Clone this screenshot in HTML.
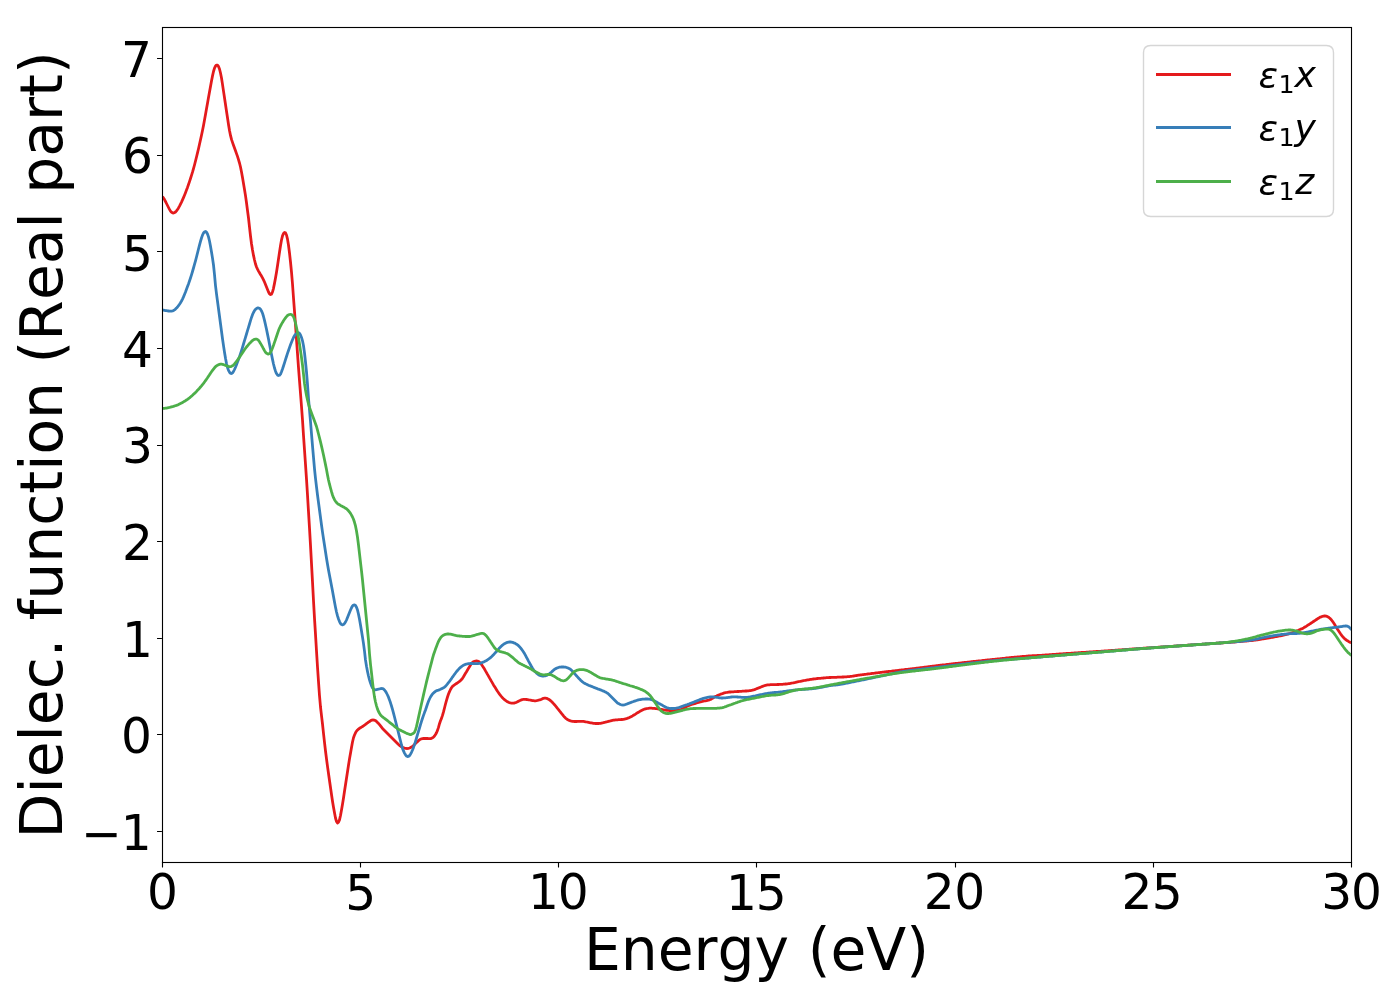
<!DOCTYPE html>
<html><head><meta charset="utf-8"><title>Dielectric function (Real part)</title>
<style>html,body{margin:0;padding:0;background:#fff}svg{display:block}text{font-family:"DejaVu Sans","Liberation Sans",sans-serif;fill:#000;font-kerning:none}</style></head><body>
<svg width="1400" height="1000" viewBox="0 0 1400 1000">
<rect width="1400" height="1000" fill="#fff"/>
<clipPath id="c"><rect x="161.9" y="27.4" width="1189.0" height="834.6"/></clipPath>
<g clip-path="url(#c)" fill="none" stroke-width="2.78" stroke-linejoin="round" stroke-linecap="butt">
<path stroke="#e41a1c" d="M162.5 196.5 L163.5 198.0 L164.5 199.6 L165.5 201.5 L166.5 203.5 L167.5 205.5 L168.5 207.5 L169.5 209.4 L170.5 211.1 L171.5 212.2 L172.5 212.9 L173.5 213.0 L174.5 212.7 L175.5 212.0 L176.5 210.9 L177.5 209.5 L178.5 207.9 L179.5 206.1 L180.5 204.1 L181.5 202.1 L182.5 199.9 L183.5 197.6 L184.5 195.2 L185.5 192.7 L186.5 190.1 L187.5 187.4 L188.5 184.5 L189.5 181.6 L190.5 178.5 L191.5 175.4 L192.5 172.2 L193.5 168.7 L194.5 165.0 L195.5 161.0 L196.5 157.0 L197.5 152.9 L198.5 148.7 L199.5 144.3 L200.5 139.8 L201.5 135.2 L202.5 130.5 L203.5 125.4 L204.5 120.0 L205.5 114.4 L206.5 108.8 L207.5 103.2 L208.5 97.6 L209.5 92.0 L210.5 86.5 L211.5 81.0 L212.5 75.9 L213.5 71.5 L214.5 68.2 L215.5 66.1 L216.5 65.1 L217.5 65.2 L218.5 66.4 L219.5 69.0 L220.5 73.0 L221.5 78.0 L222.5 84.4 L223.5 91.1 L224.5 97.8 L225.5 104.5 L226.5 111.2 L227.5 117.8 L228.5 124.5 L229.5 130.4 L230.5 135.4 L231.5 139.4 L232.5 142.4 L233.5 145.2 L234.5 148.0 L235.5 150.8 L236.5 153.6 L237.5 156.4 L238.5 159.6 L239.5 163.0 L240.5 167.0 L241.5 172.0 L242.5 177.6 L243.5 183.5 L244.5 189.5 L245.5 195.6 L246.5 202.8 L247.5 210.5 L248.5 218.0 L249.5 227.2 L250.5 236.0 L251.5 243.7 L252.5 250.0 L253.5 255.4 L254.5 260.0 L255.5 264.0 L256.5 267.0 L257.5 269.2 L258.5 271.1 L259.5 272.8 L260.5 274.5 L261.5 276.1 L262.5 277.9 L263.5 279.8 L264.5 282.0 L265.5 284.5 L266.5 287.0 L267.5 289.5 L268.5 292.0 L269.5 293.8 L270.5 294.5 L271.5 294.1 L272.5 292.0 L273.5 288.3 L274.5 283.4 L275.5 278.0 L276.5 272.2 L277.5 265.7 L278.5 259.0 L279.5 252.3 L280.5 245.8 L281.5 240.0 L282.5 235.9 L283.5 233.5 L284.5 232.5 L285.5 232.9 L286.5 235.0 L287.5 239.1 L288.5 245.3 L289.5 253.0 L290.5 262.0 L291.5 272.2 L292.5 284.0 L293.5 298.0 L294.5 311.4 L295.5 324.9 L296.5 339.3 L297.5 353.7 L298.5 367.6 L299.5 380.7 L300.5 393.5 L301.5 406.5 L302.5 420.0 L303.5 435.5 L304.5 450.0 L305.5 464.4 L306.5 479.2 L307.5 495.0 L308.5 511.7 L309.5 528.2 L310.5 545.3 L311.5 563.6 L312.5 581.8 L313.5 600.8 L314.5 618.4 L315.5 634.3 L316.5 651.0 L317.5 667.0 L318.5 681.6 L319.5 695.7 L320.5 707.0 L321.5 715.7 L322.5 724.0 L323.5 733.4 L324.5 742.4 L325.5 751.0 L326.5 758.9 L327.5 766.4 L328.5 773.5 L329.5 780.5 L330.5 787.5 L331.5 794.5 L332.5 801.3 L333.5 807.2 L334.5 812.8 L335.5 818.0 L336.5 821.5 L337.5 823.0 L338.5 822.1 L339.5 819.9 L340.5 815.5 L341.5 810.0 L342.5 804.3 L343.5 798.0 L344.5 791.3 L345.5 784.8 L346.5 778.2 L347.5 771.8 L348.5 765.2 L349.5 758.9 L350.5 753.3 L351.5 747.6 L352.5 742.0 L353.5 737.7 L354.5 735.0 L355.5 732.8 L356.5 731.1 L357.5 730.0 L358.5 729.1 L359.5 728.3 L360.5 727.7 L361.5 727.1 L362.5 726.5 L363.5 725.8 L364.5 725.1 L365.5 724.4 L366.5 723.6 L367.5 722.9 L368.5 722.1 L369.5 721.5 L370.5 720.8 L371.5 720.2 L372.5 720.0 L373.5 720.0 L374.5 720.2 L375.5 720.6 L376.5 721.4 L377.5 722.4 L378.5 723.4 L379.5 724.6 L380.5 725.9 L381.5 727.2 L382.5 728.5 L383.5 729.5 L384.5 730.5 L385.5 731.5 L386.5 732.5 L387.5 733.5 L388.5 734.5 L389.5 735.5 L390.5 736.5 L391.5 737.5 L392.5 738.5 L393.5 739.5 L394.5 740.5 L395.5 741.5 L396.5 742.5 L397.5 743.5 L398.5 744.5 L399.5 745.3 L400.5 746.1 L401.5 746.7 L402.5 747.3 L403.5 747.7 L404.5 748.1 L405.5 748.3 L406.5 748.5 L407.5 748.5 L408.5 748.3 L409.5 748.0 L410.5 747.6 L411.5 747.1 L412.5 746.4 L413.5 745.5 L414.5 744.5 L415.5 743.5 L416.5 742.5 L417.5 741.6 L418.5 740.7 L419.5 739.9 L420.5 739.2 L421.5 738.8 L422.5 738.6 L423.5 738.5 L424.5 738.5 L425.5 738.5 L426.5 738.5 L427.5 738.5 L428.5 738.6 L429.5 738.7 L430.5 738.7 L431.5 738.4 L432.5 737.8 L433.5 737.1 L434.5 736.0 L435.5 734.5 L436.5 732.7 L437.5 730.4 L438.5 727.4 L439.5 723.7 L440.5 720.7 L441.5 718.4 L442.5 715.4 L443.5 711.9 L444.5 708.0 L445.5 704.0 L446.5 700.3 L447.5 697.0 L448.5 694.0 L449.5 691.6 L450.5 689.5 L451.5 687.8 L452.5 686.4 L453.5 685.6 L454.5 684.9 L455.5 684.2 L456.5 683.5 L457.5 682.8 L458.5 682.1 L459.5 681.4 L460.5 680.6 L461.5 679.6 L462.5 678.3 L463.5 676.7 L464.5 675.0 L465.5 673.3 L466.5 671.7 L467.5 670.0 L468.5 668.3 L469.5 666.7 L470.5 665.1 L471.5 663.5 L472.5 662.4 L473.5 661.7 L474.5 661.3 L475.5 661.1 L476.5 661.0 L477.5 661.1 L478.5 661.5 L479.5 662.2 L480.5 663.2 L481.5 664.5 L482.5 666.0 L483.5 667.5 L484.5 669.1 L485.5 670.9 L486.5 672.6 L487.5 674.4 L488.5 676.1 L489.5 677.9 L490.5 679.6 L491.5 681.4 L492.5 683.1 L493.5 684.9 L494.5 686.5 L495.5 688.1 L496.5 689.7 L497.5 691.3 L498.5 692.7 L499.5 694.1 L500.5 695.4 L501.5 696.6 L502.5 697.7 L503.5 698.7 L504.5 699.6 L505.5 700.4 L506.5 701.1 L507.5 701.8 L508.5 702.3 L509.5 702.7 L510.5 703.0 L511.5 703.2 L512.5 703.2 L513.5 703.1 L514.5 703.0 L515.5 702.7 L516.5 702.3 L517.5 701.8 L518.5 701.2 L519.5 700.7 L520.5 700.3 L521.5 699.9 L522.5 699.5 L523.5 699.3 L524.5 699.3 L525.5 699.4 L526.5 699.5 L527.5 699.6 L528.5 699.8 L529.5 700.0 L530.5 700.2 L531.5 700.4 L532.5 700.6 L533.5 700.7 L534.5 700.8 L535.5 700.8 L536.5 700.7 L537.5 700.5 L538.5 700.2 L539.5 700.0 L540.5 699.6 L541.5 699.2 L542.5 698.7 L543.5 698.4 L544.5 698.2 L545.5 698.2 L546.5 698.4 L547.5 698.7 L548.5 699.2 L549.5 699.8 L550.5 700.6 L551.5 701.5 L552.5 702.5 L553.5 703.6 L554.5 704.7 L555.5 705.9 L556.5 707.1 L557.5 708.4 L558.5 709.6 L559.5 710.9 L560.5 712.1 L561.5 713.4 L562.5 714.6 L563.5 715.9 L564.5 717.1 L565.5 718.1 L566.5 718.8 L567.5 719.5 L568.5 720.1 L569.5 720.5 L570.5 720.9 L571.5 721.1 L572.5 721.3 L573.5 721.4 L574.5 721.5 L575.5 721.5 L576.5 721.5 L577.5 721.4 L578.5 721.3 L579.5 721.3 L580.5 721.3 L581.5 721.3 L582.5 721.3 L583.5 721.4 L584.5 721.6 L585.5 721.8 L586.5 722.0 L587.5 722.2 L588.5 722.4 L589.5 722.6 L590.5 722.8 L591.5 722.9 L592.5 723.1 L593.5 723.3 L594.5 723.4 L595.5 723.5 L596.5 723.5 L597.5 723.5 L598.5 723.5 L599.5 723.4 L600.5 723.3 L601.5 723.1 L602.5 722.9 L603.5 722.7 L604.5 722.4 L605.5 722.2 L606.5 721.9 L607.5 721.7 L608.5 721.4 L609.5 721.1 L610.5 720.9 L611.5 720.6 L612.5 720.4 L613.5 720.2 L614.5 720.1 L615.5 719.9 L616.5 719.8 L617.5 719.8 L618.5 719.7 L619.5 719.6 L620.5 719.6 L621.5 719.5 L622.5 719.5 L623.5 719.3 L624.5 719.1 L625.5 718.9 L626.5 718.7 L627.5 718.3 L628.5 717.9 L629.5 717.5 L630.5 716.9 L631.5 716.4 L632.5 715.9 L633.5 715.3 L634.5 714.7 L635.5 714.1 L636.5 713.4 L637.5 712.8 L638.5 712.2 L639.5 711.6 L640.5 711.0 L641.5 710.5 L642.5 710.0 L643.5 709.5 L644.5 709.2 L645.5 708.9 L646.5 708.7 L647.5 708.5 L648.5 708.3 L649.5 708.2 L650.5 708.2 L651.5 708.2 L652.5 708.3 L653.5 708.3 L654.5 708.4 L655.5 708.6 L656.5 708.7 L657.5 708.8 L658.5 709.0 L659.5 709.1 L660.5 709.3 L661.5 709.4 L662.5 709.6 L663.5 709.8 L664.5 710.0 L665.5 710.1 L666.5 710.3 L667.5 710.4 L668.5 710.4 L669.5 710.5 L670.5 710.5 L671.5 710.5 L672.5 710.5 L673.5 710.5 L674.5 710.5 L675.5 710.5 L676.5 710.4 L677.5 710.3 L678.5 710.1 L679.5 709.9 L680.5 709.7 L681.5 709.3 L682.5 708.8 L683.5 708.3 L684.5 707.8 L685.5 707.2 L686.5 706.6 L687.5 706.1 L688.5 705.6 L689.5 705.2 L690.5 704.8 L691.5 704.5 L692.5 704.2 L693.5 703.9 L694.5 703.6 L695.5 703.3 L696.5 703.0 L697.5 702.7 L698.5 702.4 L699.5 702.1 L700.5 701.9 L701.5 701.6 L702.5 701.4 L703.5 701.2 L704.5 701.0 L705.5 700.8 L706.5 700.6 L707.5 700.3 L708.5 700.1 L709.5 699.8 L710.5 699.4 L711.5 698.9 L712.5 698.3 L713.5 697.7 L714.5 697.0 L715.5 696.4 L716.5 696.0 L717.5 695.5 L718.5 695.1 L719.5 694.7 L720.5 694.3 L721.5 693.9 L722.5 693.6 L723.5 693.2 L724.5 692.9 L725.5 692.7 L726.5 692.5 L727.5 692.3 L728.5 692.1 L729.5 692.0 L730.5 692.0 L731.5 691.9 L732.5 691.8 L733.5 691.8 L734.5 691.7 L735.5 691.7 L736.5 691.6 L737.5 691.5 L738.5 691.5 L739.5 691.4 L740.5 691.3 L741.5 691.3 L742.5 691.2 L743.5 691.2 L744.5 691.1 L745.5 691.0 L746.5 691.0 L747.5 690.9 L748.5 690.8 L749.5 690.7 L750.5 690.6 L751.5 690.4 L752.5 690.2 L753.5 689.9 L754.5 689.6 L755.5 689.2 L756.5 688.8 L757.5 688.4 L758.5 688.0 L759.5 687.6 L760.5 687.2 L761.5 686.8 L762.5 686.4 L763.5 686.0 L764.5 685.7 L765.5 685.3 L766.5 685.1 L767.5 684.9 L768.5 684.8 L769.5 684.8 L770.5 684.7 L771.5 684.7 L772.5 684.7 L773.5 684.6 L774.5 684.6 L775.5 684.6 L776.5 684.6 L777.5 684.5 L778.5 684.5 L779.5 684.4 L780.5 684.4 L781.5 684.3 L782.5 684.3 L783.5 684.2 L784.5 684.1 L785.5 684.0 L786.5 684.0 L787.5 683.8 L788.5 683.7 L789.5 683.6 L790.5 683.4 L791.5 683.2 L792.5 683.0 L793.5 682.8 L794.5 682.6 L795.5 682.4 L796.5 682.1 L797.5 681.9 L798.5 681.7 L799.5 681.5 L800.5 681.3 L801.5 681.1 L802.5 680.9 L803.5 680.7 L804.5 680.5 L805.5 680.3 L806.5 680.1 L807.5 679.9 L808.5 679.8 L809.5 679.6 L810.5 679.4 L811.5 679.3 L812.5 679.1 L813.5 679.0 L814.5 678.9 L815.5 678.8 L816.5 678.6 L817.5 678.5 L818.5 678.4 L819.5 678.3 L820.5 678.3 L821.5 678.2 L822.5 678.1 L823.5 678.0 L824.5 677.9 L825.5 677.8 L826.5 677.7 L827.5 677.7 L828.5 677.6 L829.5 677.5 L830.5 677.5 L831.5 677.4 L832.5 677.4 L833.5 677.4 L834.5 677.3 L835.5 677.3 L836.5 677.3 L837.5 677.2 L838.5 677.2 L839.5 677.2 L840.5 677.1 L841.5 677.1 L842.5 677.0 L843.5 677.0 L844.5 676.9 L845.5 676.9 L846.5 676.8 L847.5 676.7 L848.5 676.7 L849.5 676.6 L850.5 676.4 L851.5 676.3 L852.5 676.2 L853.5 676.0 L854.5 675.9 L855.5 675.7 L856.5 675.5 L857.5 675.4 L858.5 675.2 L859.5 675.1 L860.5 674.9 L861.5 674.8 L862.5 674.7 L863.5 674.6 L864.5 674.4 L865.5 674.3 L866.5 674.2 L867.5 674.0 L868.5 673.9 L869.5 673.8 L870.5 673.7 L871.5 673.5 L872.5 673.4 L873.5 673.3 L874.5 673.2 L875.5 673.0 L876.5 672.9 L877.5 672.8 L878.5 672.7 L879.5 672.6 L880.5 672.4 L881.5 672.3 L882.5 672.2 L883.5 672.1 L884.5 672.0 L885.5 671.9 L886.5 671.7 L887.5 671.6 L888.5 671.5 L889.5 671.4 L890.5 671.3 L891.5 671.2 L892.5 671.0 L893.5 670.9 L894.5 670.8 L895.5 670.7 L896.5 670.6 L897.5 670.5 L898.5 670.3 L899.5 670.2 L900.5 670.1 L901.5 670.0 L902.5 669.9 L903.5 669.8 L904.5 669.6 L905.5 669.5 L906.5 669.4 L907.5 669.3 L908.5 669.2 L909.5 669.1 L910.5 668.9 L911.5 668.8 L912.5 668.7 L913.5 668.6 L914.5 668.5 L915.5 668.3 L916.5 668.2 L917.5 668.1 L918.5 668.0 L919.5 667.8 L920.5 667.7 L921.5 667.6 L922.5 667.5 L923.5 667.3 L924.5 667.2 L925.5 667.1 L926.5 667.0 L927.5 666.8 L928.5 666.7 L929.5 666.6 L930.5 666.4 L931.5 666.3 L932.5 666.2 L933.5 666.1 L934.5 666.0 L935.5 665.8 L936.5 665.7 L937.5 665.6 L938.5 665.5 L939.5 665.4 L940.5 665.2 L941.5 665.1 L942.5 665.0 L943.5 664.9 L944.5 664.8 L945.5 664.7 L946.5 664.5 L947.5 664.4 L948.5 664.3 L949.5 664.2 L950.5 664.1 L951.5 664.0 L952.5 663.9 L953.5 663.7 L954.5 663.6 L955.5 663.5 L956.5 663.4 L957.5 663.3 L958.5 663.2 L959.5 663.1 L960.5 663.0 L961.5 662.8 L962.5 662.7 L963.5 662.6 L964.5 662.5 L965.5 662.4 L966.5 662.3 L967.5 662.2 L968.5 662.1 L969.5 662.0 L970.5 661.8 L971.5 661.7 L972.5 661.6 L973.5 661.5 L974.5 661.4 L975.5 661.3 L976.5 661.2 L977.5 661.1 L978.5 661.0 L979.5 660.9 L980.5 660.8 L981.5 660.7 L982.5 660.5 L983.5 660.4 L984.5 660.3 L985.5 660.2 L986.5 660.1 L987.5 660.0 L988.5 659.9 L989.5 659.8 L990.5 659.7 L991.5 659.6 L992.5 659.5 L993.5 659.4 L994.5 659.3 L995.5 659.2 L996.5 659.1 L997.5 659.0 L998.5 658.9 L999.5 658.8 L1000.5 658.7 L1001.5 658.6 L1002.5 658.5 L1003.5 658.4 L1004.5 658.3 L1005.5 658.1 L1006.5 658.0 L1007.5 657.9 L1008.5 657.8 L1009.5 657.7 L1010.5 657.6 L1011.5 657.5 L1012.5 657.4 L1013.5 657.3 L1014.5 657.2 L1015.5 657.2 L1016.5 657.1 L1017.5 657.0 L1018.5 656.9 L1019.5 656.8 L1020.5 656.7 L1021.5 656.6 L1022.5 656.5 L1023.5 656.4 L1024.5 656.3 L1025.5 656.3 L1026.5 656.2 L1027.5 656.1 L1028.5 656.0 L1029.5 655.9 L1030.5 655.9 L1031.5 655.8 L1032.5 655.7 L1033.5 655.7 L1034.5 655.7 L1035.5 655.6 L1036.5 655.6 L1037.5 655.5 L1038.5 655.5 L1039.5 655.4 L1040.5 655.4 L1041.5 655.3 L1042.5 655.2 L1043.5 655.2 L1044.5 655.1 L1045.5 655.0 L1046.5 654.9 L1047.5 654.9 L1048.5 654.8 L1049.5 654.7 L1050.5 654.7 L1051.5 654.6 L1052.5 654.5 L1053.5 654.5 L1054.5 654.4 L1055.5 654.3 L1056.5 654.2 L1057.5 654.2 L1058.5 654.1 L1059.5 654.0 L1060.5 654.0 L1061.5 653.9 L1062.5 653.8 L1063.5 653.7 L1064.5 653.7 L1065.5 653.6 L1066.5 653.5 L1067.5 653.5 L1068.5 653.4 L1069.5 653.3 L1070.5 653.3 L1071.5 653.2 L1072.5 653.1 L1073.5 653.1 L1074.5 653.0 L1075.5 652.9 L1076.5 652.9 L1077.5 652.8 L1078.5 652.7 L1079.5 652.7 L1080.5 652.6 L1081.5 652.5 L1082.5 652.5 L1083.5 652.4 L1084.5 652.3 L1085.5 652.3 L1086.5 652.2 L1087.5 652.1 L1088.5 652.1 L1089.5 652.0 L1090.5 651.9 L1091.5 651.9 L1092.5 651.8 L1093.5 651.7 L1094.5 651.7 L1095.5 651.6 L1096.5 651.5 L1097.5 651.5 L1098.5 651.4 L1099.5 651.3 L1100.5 651.3 L1101.5 651.2 L1102.5 651.1 L1103.5 651.1 L1104.5 651.0 L1105.5 650.9 L1106.5 650.8 L1107.5 650.8 L1108.5 650.7 L1109.5 650.6 L1110.5 650.6 L1111.5 650.5 L1112.5 650.4 L1113.5 650.4 L1114.5 650.3 L1115.5 650.2 L1116.5 650.1 L1117.5 650.1 L1118.5 650.0 L1119.5 649.9 L1120.5 649.9 L1121.5 649.8 L1122.5 649.7 L1123.5 649.7 L1124.5 649.6 L1125.5 649.5 L1126.5 649.4 L1127.5 649.4 L1128.5 649.3 L1129.5 649.2 L1130.5 649.2 L1131.5 649.1 L1132.5 649.0 L1133.5 648.9 L1134.5 648.9 L1135.5 648.8 L1136.5 648.7 L1137.5 648.7 L1138.5 648.6 L1139.5 648.5 L1140.5 648.5 L1141.5 648.4 L1142.5 648.3 L1143.5 648.2 L1144.5 648.2 L1145.5 648.1 L1146.5 648.0 L1147.5 648.0 L1148.5 647.9 L1149.5 647.8 L1150.5 647.8 L1151.5 647.7 L1152.5 647.6 L1153.5 647.6 L1154.5 647.5 L1155.5 647.4 L1156.5 647.4 L1157.5 647.3 L1158.5 647.2 L1159.5 647.1 L1160.5 647.1 L1161.5 647.0 L1162.5 646.9 L1163.5 646.9 L1164.5 646.8 L1165.5 646.7 L1166.5 646.7 L1167.5 646.6 L1168.5 646.5 L1169.5 646.5 L1170.5 646.4 L1171.5 646.3 L1172.5 646.3 L1173.5 646.2 L1174.5 646.1 L1175.5 646.1 L1176.5 646.0 L1177.5 645.9 L1178.5 645.8 L1179.5 645.8 L1180.5 645.7 L1181.5 645.6 L1182.5 645.6 L1183.5 645.5 L1184.5 645.4 L1185.5 645.4 L1186.5 645.3 L1187.5 645.2 L1188.5 645.2 L1189.5 645.1 L1190.5 645.0 L1191.5 645.0 L1192.5 644.9 L1193.5 644.8 L1194.5 644.7 L1195.5 644.7 L1196.5 644.6 L1197.5 644.5 L1198.5 644.5 L1199.5 644.4 L1200.5 644.3 L1201.5 644.3 L1202.5 644.2 L1203.5 644.1 L1204.5 644.1 L1205.5 644.0 L1206.5 643.9 L1207.5 643.9 L1208.5 643.8 L1209.5 643.7 L1210.5 643.7 L1211.5 643.6 L1212.5 643.5 L1213.5 643.4 L1214.5 643.4 L1215.5 643.3 L1216.5 643.2 L1217.5 643.2 L1218.5 643.1 L1219.5 643.0 L1220.5 643.0 L1221.5 642.9 L1222.5 642.8 L1223.5 642.8 L1224.5 642.7 L1225.5 642.6 L1226.5 642.5 L1227.5 642.5 L1228.5 642.4 L1229.5 642.3 L1230.5 642.3 L1231.5 642.2 L1232.5 642.1 L1233.5 642.0 L1234.5 642.0 L1235.5 641.9 L1236.5 641.8 L1237.5 641.7 L1238.5 641.6 L1239.5 641.6 L1240.5 641.5 L1241.5 641.4 L1242.5 641.3 L1243.5 641.2 L1244.5 641.2 L1245.5 641.1 L1246.5 641.0 L1247.5 640.9 L1248.5 640.8 L1249.5 640.7 L1250.5 640.7 L1251.5 640.6 L1252.5 640.5 L1253.5 640.3 L1254.5 640.2 L1255.5 640.1 L1256.5 639.9 L1257.5 639.8 L1258.5 639.6 L1259.5 639.5 L1260.5 639.3 L1261.5 639.2 L1262.5 639.0 L1263.5 638.8 L1264.5 638.6 L1265.5 638.5 L1266.5 638.3 L1267.5 638.1 L1268.5 638.0 L1269.5 637.8 L1270.5 637.6 L1271.5 637.4 L1272.5 637.3 L1273.5 637.1 L1274.5 636.9 L1275.5 636.7 L1276.5 636.6 L1277.5 636.4 L1278.5 636.2 L1279.5 636.0 L1280.5 635.8 L1281.5 635.6 L1282.5 635.3 L1283.5 635.1 L1284.5 634.9 L1285.5 634.7 L1286.5 634.4 L1287.5 634.2 L1288.5 633.9 L1289.5 633.6 L1290.5 633.4 L1291.5 633.0 L1292.5 632.7 L1293.5 632.3 L1294.5 631.9 L1295.5 631.5 L1296.5 631.1 L1297.5 630.6 L1298.5 630.2 L1299.5 629.7 L1300.5 629.3 L1301.5 628.9 L1302.5 628.4 L1303.5 627.9 L1304.5 627.3 L1305.5 626.7 L1306.5 626.1 L1307.5 625.4 L1308.5 624.8 L1309.5 624.1 L1310.5 623.5 L1311.5 622.8 L1312.5 622.2 L1313.5 621.5 L1314.5 620.8 L1315.5 620.2 L1316.5 619.5 L1317.5 618.8 L1318.5 618.2 L1319.5 617.6 L1320.5 617.1 L1321.5 616.7 L1322.5 616.3 L1323.5 616.1 L1324.5 616.0 L1325.5 616.0 L1326.5 616.2 L1327.5 616.6 L1328.5 617.2 L1329.5 618.0 L1330.5 618.9 L1331.5 620.0 L1332.5 621.3 L1333.5 622.8 L1334.5 624.3 L1335.5 626.0 L1336.5 627.6 L1337.5 629.2 L1338.5 630.7 L1339.5 632.2 L1340.5 633.7 L1341.5 635.1 L1342.5 636.4 L1343.5 637.6 L1344.5 638.6 L1345.5 639.4 L1346.5 640.2 L1347.5 640.8 L1348.5 641.4 L1349.5 641.9 L1350.5 642.4 L1351.5 642.7"/>
<path stroke="#377eb8" d="M162.5 310.0 L163.5 310.2 L164.5 310.4 L165.5 310.6 L166.5 310.7 L167.5 310.9 L168.5 311.0 L169.5 311.1 L170.5 311.2 L171.5 311.2 L172.5 311.0 L173.5 310.5 L174.5 309.9 L175.5 309.1 L176.5 308.1 L177.5 307.0 L178.5 305.7 L179.5 304.3 L180.5 302.7 L181.5 301.0 L182.5 299.1 L183.5 296.9 L184.5 294.5 L185.5 292.0 L186.5 289.3 L187.5 286.6 L188.5 283.9 L189.5 281.0 L190.5 278.0 L191.5 274.8 L192.5 271.5 L193.5 268.0 L194.5 264.4 L195.5 260.8 L196.5 257.0 L197.5 253.0 L198.5 249.0 L199.5 245.1 L200.5 241.4 L201.5 238.0 L202.5 235.1 L203.5 233.0 L204.5 231.8 L205.5 231.5 L206.5 232.2 L207.5 234.0 L208.5 236.9 L209.5 241.0 L210.5 246.3 L211.5 252.0 L212.5 258.1 L213.5 265.0 L214.5 274.7 L215.5 285.6 L216.5 293.8 L217.5 301.2 L218.5 308.8 L219.5 316.2 L220.5 323.8 L221.5 331.2 L222.5 338.7 L223.5 345.6 L224.5 352.3 L225.5 358.3 L226.5 363.5 L227.5 367.5 L228.5 370.3 L229.5 372.2 L230.5 373.3 L231.5 373.5 L232.5 372.9 L233.5 371.5 L234.5 369.5 L235.5 367.2 L236.5 364.7 L237.5 362.1 L238.5 359.4 L239.5 356.6 L240.5 353.7 L241.5 350.6 L242.5 347.3 L243.5 344.0 L244.5 340.7 L245.5 337.3 L246.5 334.0 L247.5 330.7 L248.5 327.3 L249.5 324.0 L250.5 320.7 L251.5 317.4 L252.5 314.7 L253.5 312.5 L254.5 310.6 L255.5 309.3 L256.5 308.5 L257.5 308.0 L258.5 308.0 L259.5 308.3 L260.5 309.3 L261.5 310.9 L262.5 313.2 L263.5 316.5 L264.5 320.4 L265.5 324.7 L266.5 329.3 L267.5 334.1 L268.5 339.0 L269.5 344.2 L270.5 349.4 L271.5 354.5 L272.5 359.4 L273.5 364.0 L274.5 368.0 L275.5 371.2 L276.5 373.6 L277.5 375.1 L278.5 375.5 L279.5 375.2 L280.5 374.1 L281.5 371.7 L282.5 369.0 L283.5 366.0 L284.5 362.8 L285.5 359.6 L286.5 356.5 L287.5 353.4 L288.5 350.5 L289.5 347.6 L290.5 344.8 L291.5 342.3 L292.5 339.8 L293.5 337.5 L294.5 335.7 L295.5 334.4 L296.5 333.6 L297.5 333.0 L298.5 332.6 L299.5 333.3 L300.5 334.9 L301.5 337.4 L302.5 340.8 L303.5 345.8 L304.5 352.9 L305.5 362.0 L306.5 372.0 L307.5 384.3 L308.5 398.5 L309.5 410.0 L310.5 421.5 L311.5 433.8 L312.5 445.8 L313.5 457.3 L314.5 468.8 L315.5 478.3 L316.5 486.9 L317.5 495.0 L318.5 502.5 L319.5 510.0 L320.5 517.5 L321.5 525.0 L322.5 532.1 L323.5 538.7 L324.5 545.3 L325.5 551.8 L326.5 558.2 L327.5 564.3 L328.5 570.0 L329.5 575.3 L330.5 580.5 L331.5 585.8 L332.5 591.0 L333.5 596.5 L334.5 602.0 L335.5 607.2 L336.5 612.0 L337.5 615.9 L338.5 619.0 L339.5 621.6 L340.5 623.5 L341.5 624.5 L342.5 624.8 L343.5 624.5 L344.5 623.5 L345.5 622.0 L346.5 620.0 L347.5 617.5 L348.5 615.0 L349.5 612.5 L350.5 610.0 L351.5 607.8 L352.5 606.0 L353.5 605.0 L354.5 604.8 L355.5 605.5 L356.5 607.2 L357.5 610.0 L358.5 614.2 L359.5 619.2 L360.5 624.9 L361.5 630.9 L362.5 637.1 L363.5 643.6 L364.5 651.1 L365.5 660.0 L366.5 666.3 L367.5 671.4 L368.5 676.0 L369.5 679.8 L370.5 683.1 L371.5 685.8 L372.5 687.8 L373.5 689.0 L374.5 689.7 L375.5 689.8 L376.5 689.6 L377.5 689.4 L378.5 689.2 L379.5 689.0 L380.5 688.7 L381.5 688.5 L382.5 688.6 L383.5 689.1 L384.5 690.0 L385.5 691.3 L386.5 693.0 L387.5 695.0 L388.5 697.2 L389.5 699.9 L390.5 702.8 L391.5 706.0 L392.5 709.4 L393.5 713.1 L394.5 717.0 L395.5 721.0 L396.5 725.0 L397.5 729.0 L398.5 733.0 L399.5 737.0 L400.5 741.0 L401.5 745.0 L402.5 748.4 L403.5 750.9 L404.5 753.1 L405.5 754.8 L406.5 756.0 L407.5 756.5 L408.5 756.4 L409.5 755.6 L410.5 754.2 L411.5 752.3 L412.5 750.0 L413.5 747.4 L414.5 744.6 L415.5 741.3 L416.5 738.0 L417.5 734.7 L418.5 731.3 L419.5 728.0 L420.5 724.7 L421.5 721.4 L422.5 718.3 L423.5 715.4 L424.5 712.6 L425.5 710.0 L426.5 707.0 L427.5 704.0 L428.5 701.3 L429.5 699.0 L430.5 697.0 L431.5 695.4 L432.5 694.0 L433.5 693.0 L434.5 692.1 L435.5 691.3 L436.5 690.8 L437.5 690.4 L438.5 690.1 L439.5 689.7 L440.5 689.3 L441.5 688.8 L442.5 688.4 L443.5 687.8 L444.5 687.1 L445.5 686.2 L446.5 685.1 L447.5 683.9 L448.5 682.6 L449.5 681.4 L450.5 680.0 L451.5 678.6 L452.5 677.1 L453.5 675.7 L454.5 674.3 L455.5 673.0 L456.5 671.7 L457.5 670.5 L458.5 669.4 L459.5 668.3 L460.5 667.4 L461.5 666.6 L462.5 665.9 L463.5 665.3 L464.5 664.8 L465.5 664.4 L466.5 664.0 L467.5 663.8 L468.5 663.6 L469.5 663.6 L470.5 663.5 L471.5 663.5 L472.5 663.5 L473.5 663.6 L474.5 663.6 L475.5 663.7 L476.5 663.7 L477.5 663.6 L478.5 663.5 L479.5 663.3 L480.5 663.1 L481.5 662.8 L482.5 662.4 L483.5 662.0 L484.5 661.6 L485.5 661.1 L486.5 660.5 L487.5 659.8 L488.5 659.1 L489.5 658.4 L490.5 657.6 L491.5 656.7 L492.5 655.7 L493.5 654.7 L494.5 653.6 L495.5 652.5 L496.5 651.5 L497.5 650.3 L498.5 649.2 L499.5 648.0 L500.5 647.0 L501.5 646.0 L502.5 645.1 L503.5 644.4 L504.5 643.7 L505.5 643.1 L506.5 642.7 L507.5 642.4 L508.5 642.1 L509.5 642.0 L510.5 642.0 L511.5 642.1 L512.5 642.4 L513.5 642.7 L514.5 643.1 L515.5 643.6 L516.5 644.2 L517.5 644.9 L518.5 645.7 L519.5 646.7 L520.5 647.9 L521.5 649.2 L522.5 650.5 L523.5 652.0 L524.5 653.6 L525.5 655.4 L526.5 657.3 L527.5 659.2 L528.5 661.1 L529.5 662.9 L530.5 664.7 L531.5 666.5 L532.5 668.2 L533.5 669.8 L534.5 671.1 L535.5 672.1 L536.5 673.1 L537.5 673.9 L538.5 674.7 L539.5 675.3 L540.5 675.7 L541.5 675.9 L542.5 676.0 L543.5 676.0 L544.5 675.9 L545.5 675.8 L546.5 675.4 L547.5 674.9 L548.5 674.3 L549.5 673.6 L550.5 672.8 L551.5 672.0 L552.5 671.1 L553.5 670.2 L554.5 669.4 L555.5 668.8 L556.5 668.2 L557.5 667.8 L558.5 667.5 L559.5 667.2 L560.5 667.1 L561.5 667.0 L562.5 666.9 L563.5 667.0 L564.5 667.1 L565.5 667.2 L566.5 667.5 L567.5 667.8 L568.5 668.2 L569.5 668.7 L570.5 669.4 L571.5 670.3 L572.5 671.3 L573.5 672.4 L574.5 673.5 L575.5 674.6 L576.5 675.8 L577.5 676.9 L578.5 678.0 L579.5 679.1 L580.5 680.1 L581.5 681.0 L582.5 681.9 L583.5 682.6 L584.5 683.2 L585.5 683.8 L586.5 684.2 L587.5 684.7 L588.5 685.2 L589.5 685.6 L590.5 686.0 L591.5 686.4 L592.5 686.8 L593.5 687.2 L594.5 687.6 L595.5 688.0 L596.5 688.4 L597.5 688.8 L598.5 689.1 L599.5 689.5 L600.5 689.9 L601.5 690.3 L602.5 690.7 L603.5 691.1 L604.5 691.6 L605.5 692.0 L606.5 692.6 L607.5 693.2 L608.5 694.0 L609.5 695.0 L610.5 696.0 L611.5 697.0 L612.5 698.0 L613.5 699.0 L614.5 700.0 L615.5 701.0 L616.5 702.0 L617.5 703.0 L618.5 703.6 L619.5 704.1 L620.5 704.5 L621.5 704.8 L622.5 705.0 L623.5 705.0 L624.5 704.8 L625.5 704.5 L626.5 704.2 L627.5 703.8 L628.5 703.4 L629.5 703.0 L630.5 702.6 L631.5 702.2 L632.5 701.8 L633.5 701.5 L634.5 701.1 L635.5 700.8 L636.5 700.5 L637.5 700.2 L638.5 699.9 L639.5 699.7 L640.5 699.5 L641.5 699.4 L642.5 699.2 L643.5 699.1 L644.5 699.1 L645.5 699.0 L646.5 699.0 L647.5 699.0 L648.5 699.1 L649.5 699.2 L650.5 699.4 L651.5 699.7 L652.5 700.0 L653.5 700.4 L654.5 700.9 L655.5 701.5 L656.5 702.0 L657.5 702.6 L658.5 703.2 L659.5 703.7 L660.5 704.3 L661.5 704.8 L662.5 705.4 L663.5 706.0 L664.5 706.5 L665.5 707.1 L666.5 707.5 L667.5 707.8 L668.5 708.1 L669.5 708.3 L670.5 708.5 L671.5 708.5 L672.5 708.5 L673.5 708.5 L674.5 708.4 L675.5 708.3 L676.5 708.1 L677.5 707.9 L678.5 707.7 L679.5 707.4 L680.5 707.0 L681.5 706.6 L682.5 706.2 L683.5 705.9 L684.5 705.5 L685.5 705.2 L686.5 704.8 L687.5 704.5 L688.5 704.1 L689.5 703.8 L690.5 703.4 L691.5 703.0 L692.5 702.6 L693.5 702.2 L694.5 701.8 L695.5 701.4 L696.5 701.0 L697.5 700.6 L698.5 700.2 L699.5 699.8 L700.5 699.4 L701.5 699.0 L702.5 698.7 L703.5 698.4 L704.5 698.1 L705.5 697.8 L706.5 697.6 L707.5 697.4 L708.5 697.2 L709.5 697.0 L710.5 697.0 L711.5 696.9 L712.5 696.9 L713.5 697.0 L714.5 697.1 L715.5 697.2 L716.5 697.3 L717.5 697.4 L718.5 697.6 L719.5 697.8 L720.5 697.9 L721.5 698.0 L722.5 698.0 L723.5 697.9 L724.5 697.8 L725.5 697.8 L726.5 697.7 L727.5 697.6 L728.5 697.4 L729.5 697.3 L730.5 697.1 L731.5 697.0 L732.5 696.9 L733.5 696.8 L734.5 696.8 L735.5 696.9 L736.5 696.9 L737.5 697.0 L738.5 697.1 L739.5 697.2 L740.5 697.2 L741.5 697.3 L742.5 697.4 L743.5 697.4 L744.5 697.5 L745.5 697.5 L746.5 697.5 L747.5 697.4 L748.5 697.2 L749.5 697.0 L750.5 696.8 L751.5 696.6 L752.5 696.4 L753.5 696.2 L754.5 696.0 L755.5 695.8 L756.5 695.5 L757.5 695.3 L758.5 695.1 L759.5 694.9 L760.5 694.7 L761.5 694.5 L762.5 694.3 L763.5 694.1 L764.5 693.9 L765.5 693.7 L766.5 693.6 L767.5 693.4 L768.5 693.2 L769.5 693.1 L770.5 692.9 L771.5 692.8 L772.5 692.7 L773.5 692.6 L774.5 692.5 L775.5 692.5 L776.5 692.4 L777.5 692.3 L778.5 692.2 L779.5 692.1 L780.5 691.9 L781.5 691.8 L782.5 691.7 L783.5 691.5 L784.5 691.4 L785.5 691.3 L786.5 691.1 L787.5 691.0 L788.5 690.9 L789.5 690.7 L790.5 690.6 L791.5 690.5 L792.5 690.3 L793.5 690.2 L794.5 690.1 L795.5 690.0 L796.5 689.9 L797.5 689.8 L798.5 689.7 L799.5 689.6 L800.5 689.6 L801.5 689.5 L802.5 689.4 L803.5 689.3 L804.5 689.3 L805.5 689.2 L806.5 689.2 L807.5 689.1 L808.5 689.0 L809.5 688.9 L810.5 688.9 L811.5 688.8 L812.5 688.6 L813.5 688.5 L814.5 688.4 L815.5 688.3 L816.5 688.1 L817.5 688.0 L818.5 687.8 L819.5 687.7 L820.5 687.5 L821.5 687.3 L822.5 687.1 L823.5 686.9 L824.5 686.7 L825.5 686.5 L826.5 686.3 L827.5 686.1 L828.5 685.9 L829.5 685.7 L830.5 685.5 L831.5 685.4 L832.5 685.3 L833.5 685.2 L834.5 685.1 L835.5 685.0 L836.5 684.9 L837.5 684.8 L838.5 684.6 L839.5 684.5 L840.5 684.3 L841.5 684.1 L842.5 684.0 L843.5 683.8 L844.5 683.6 L845.5 683.4 L846.5 683.2 L847.5 683.0 L848.5 682.9 L849.5 682.7 L850.5 682.4 L851.5 682.2 L852.5 682.0 L853.5 681.8 L854.5 681.6 L855.5 681.4 L856.5 681.2 L857.5 681.0 L858.5 680.8 L859.5 680.6 L860.5 680.4 L861.5 680.2 L862.5 680.0 L863.5 679.8 L864.5 679.6 L865.5 679.4 L866.5 679.1 L867.5 678.9 L868.5 678.7 L869.5 678.5 L870.5 678.3 L871.5 678.1 L872.5 677.9 L873.5 677.7 L874.5 677.5 L875.5 677.2 L876.5 677.0 L877.5 676.8 L878.5 676.6 L879.5 676.4 L880.5 676.2 L881.5 676.0 L882.5 675.8 L883.5 675.5 L884.5 675.3 L885.5 675.1 L886.5 674.9 L887.5 674.7 L888.5 674.4 L889.5 674.2 L890.5 674.0 L891.5 673.8 L892.5 673.5 L893.5 673.3 L894.5 673.1 L895.5 672.9 L896.5 672.7 L897.5 672.5 L898.5 672.3 L899.5 672.1 L900.5 671.9 L901.5 671.8 L902.5 671.6 L903.5 671.4 L904.5 671.3 L905.5 671.1 L906.5 671.0 L907.5 670.8 L908.5 670.7 L909.5 670.6 L910.5 670.4 L911.5 670.3 L912.5 670.2 L913.5 670.1 L914.5 670.0 L915.5 669.8 L916.5 669.7 L917.5 669.6 L918.5 669.5 L919.5 669.4 L920.5 669.3 L921.5 669.2 L922.5 669.0 L923.5 668.9 L924.5 668.8 L925.5 668.7 L926.5 668.6 L927.5 668.5 L928.5 668.4 L929.5 668.2 L930.5 668.1 L931.5 668.0 L932.5 667.9 L933.5 667.8 L934.5 667.7 L935.5 667.5 L936.5 667.4 L937.5 667.3 L938.5 667.2 L939.5 667.1 L940.5 666.9 L941.5 666.8 L942.5 666.7 L943.5 666.6 L944.5 666.4 L945.5 666.3 L946.5 666.2 L947.5 666.1 L948.5 665.9 L949.5 665.8 L950.5 665.7 L951.5 665.6 L952.5 665.4 L953.5 665.3 L954.5 665.2 L955.5 665.1 L956.5 664.9 L957.5 664.8 L958.5 664.7 L959.5 664.6 L960.5 664.5 L961.5 664.3 L962.5 664.2 L963.5 664.1 L964.5 664.0 L965.5 663.8 L966.5 663.7 L967.5 663.6 L968.5 663.5 L969.5 663.4 L970.5 663.2 L971.5 663.1 L972.5 663.0 L973.5 662.9 L974.5 662.8 L975.5 662.7 L976.5 662.5 L977.5 662.4 L978.5 662.3 L979.5 662.2 L980.5 662.1 L981.5 662.0 L982.5 661.9 L983.5 661.8 L984.5 661.7 L985.5 661.6 L986.5 661.5 L987.5 661.3 L988.5 661.2 L989.5 661.1 L990.5 661.0 L991.5 660.9 L992.5 660.8 L993.5 660.7 L994.5 660.6 L995.5 660.6 L996.5 660.5 L997.5 660.4 L998.5 660.3 L999.5 660.2 L1000.5 660.1 L1001.5 660.0 L1002.5 659.9 L1003.5 659.8 L1004.5 659.7 L1005.5 659.7 L1006.5 659.6 L1007.5 659.5 L1008.5 659.4 L1009.5 659.3 L1010.5 659.3 L1011.5 659.2 L1012.5 659.1 L1013.5 659.1 L1014.5 659.0 L1015.5 658.9 L1016.5 658.8 L1017.5 658.8 L1018.5 658.7 L1019.5 658.6 L1020.5 658.6 L1021.5 658.5 L1022.5 658.4 L1023.5 658.4 L1024.5 658.3 L1025.5 658.2 L1026.5 658.1 L1027.5 658.1 L1028.5 658.0 L1029.5 657.9 L1030.5 657.8 L1031.5 657.7 L1032.5 657.6 L1033.5 657.6 L1034.5 657.5 L1035.5 657.4 L1036.5 657.3 L1037.5 657.2 L1038.5 657.1 L1039.5 657.0 L1040.5 657.0 L1041.5 656.9 L1042.5 656.8 L1043.5 656.7 L1044.5 656.6 L1045.5 656.5 L1046.5 656.5 L1047.5 656.4 L1048.5 656.3 L1049.5 656.2 L1050.5 656.1 L1051.5 656.0 L1052.5 656.0 L1053.5 655.9 L1054.5 655.8 L1055.5 655.7 L1056.5 655.6 L1057.5 655.5 L1058.5 655.5 L1059.5 655.4 L1060.5 655.3 L1061.5 655.2 L1062.5 655.1 L1063.5 655.0 L1064.5 655.0 L1065.5 654.9 L1066.5 654.8 L1067.5 654.7 L1068.5 654.6 L1069.5 654.5 L1070.5 654.5 L1071.5 654.4 L1072.5 654.3 L1073.5 654.2 L1074.5 654.1 L1075.5 654.1 L1076.5 654.0 L1077.5 653.9 L1078.5 653.8 L1079.5 653.7 L1080.5 653.7 L1081.5 653.6 L1082.5 653.5 L1083.5 653.4 L1084.5 653.3 L1085.5 653.3 L1086.5 653.2 L1087.5 653.1 L1088.5 653.0 L1089.5 652.9 L1090.5 652.9 L1091.5 652.8 L1092.5 652.7 L1093.5 652.6 L1094.5 652.5 L1095.5 652.5 L1096.5 652.4 L1097.5 652.3 L1098.5 652.2 L1099.5 652.1 L1100.5 652.1 L1101.5 652.0 L1102.5 651.9 L1103.5 651.8 L1104.5 651.7 L1105.5 651.6 L1106.5 651.6 L1107.5 651.5 L1108.5 651.4 L1109.5 651.3 L1110.5 651.2 L1111.5 651.1 L1112.5 651.1 L1113.5 651.0 L1114.5 650.9 L1115.5 650.8 L1116.5 650.7 L1117.5 650.6 L1118.5 650.5 L1119.5 650.5 L1120.5 650.4 L1121.5 650.3 L1122.5 650.2 L1123.5 650.1 L1124.5 650.0 L1125.5 650.0 L1126.5 649.9 L1127.5 649.8 L1128.5 649.7 L1129.5 649.6 L1130.5 649.5 L1131.5 649.4 L1132.5 649.4 L1133.5 649.3 L1134.5 649.2 L1135.5 649.1 L1136.5 649.0 L1137.5 649.0 L1138.5 648.9 L1139.5 648.8 L1140.5 648.7 L1141.5 648.6 L1142.5 648.6 L1143.5 648.5 L1144.5 648.4 L1145.5 648.3 L1146.5 648.3 L1147.5 648.2 L1148.5 648.1 L1149.5 648.0 L1150.5 648.0 L1151.5 647.9 L1152.5 647.8 L1153.5 647.8 L1154.5 647.7 L1155.5 647.6 L1156.5 647.5 L1157.5 647.5 L1158.5 647.4 L1159.5 647.3 L1160.5 647.2 L1161.5 647.2 L1162.5 647.1 L1163.5 647.0 L1164.5 647.0 L1165.5 646.9 L1166.5 646.8 L1167.5 646.8 L1168.5 646.7 L1169.5 646.6 L1170.5 646.5 L1171.5 646.5 L1172.5 646.4 L1173.5 646.3 L1174.5 646.2 L1175.5 646.2 L1176.5 646.1 L1177.5 646.0 L1178.5 646.0 L1179.5 645.9 L1180.5 645.8 L1181.5 645.8 L1182.5 645.7 L1183.5 645.6 L1184.5 645.5 L1185.5 645.5 L1186.5 645.4 L1187.5 645.3 L1188.5 645.2 L1189.5 645.2 L1190.5 645.1 L1191.5 645.0 L1192.5 645.0 L1193.5 644.9 L1194.5 644.8 L1195.5 644.8 L1196.5 644.7 L1197.5 644.6 L1198.5 644.5 L1199.5 644.5 L1200.5 644.4 L1201.5 644.3 L1202.5 644.2 L1203.5 644.2 L1204.5 644.1 L1205.5 644.0 L1206.5 644.0 L1207.5 643.9 L1208.5 643.8 L1209.5 643.8 L1210.5 643.7 L1211.5 643.6 L1212.5 643.5 L1213.5 643.5 L1214.5 643.4 L1215.5 643.3 L1216.5 643.2 L1217.5 643.2 L1218.5 643.1 L1219.5 643.0 L1220.5 643.0 L1221.5 642.9 L1222.5 642.8 L1223.5 642.7 L1224.5 642.7 L1225.5 642.6 L1226.5 642.5 L1227.5 642.4 L1228.5 642.4 L1229.5 642.3 L1230.5 642.2 L1231.5 642.1 L1232.5 642.0 L1233.5 641.9 L1234.5 641.8 L1235.5 641.8 L1236.5 641.7 L1237.5 641.6 L1238.5 641.5 L1239.5 641.4 L1240.5 641.3 L1241.5 641.2 L1242.5 641.1 L1243.5 641.0 L1244.5 640.9 L1245.5 640.7 L1246.5 640.6 L1247.5 640.5 L1248.5 640.4 L1249.5 640.3 L1250.5 640.1 L1251.5 640.0 L1252.5 639.8 L1253.5 639.7 L1254.5 639.5 L1255.5 639.3 L1256.5 639.1 L1257.5 638.9 L1258.5 638.6 L1259.5 638.4 L1260.5 638.2 L1261.5 638.0 L1262.5 637.7 L1263.5 637.5 L1264.5 637.3 L1265.5 637.1 L1266.5 636.9 L1267.5 636.7 L1268.5 636.5 L1269.5 636.3 L1270.5 636.1 L1271.5 636.0 L1272.5 635.8 L1273.5 635.6 L1274.5 635.5 L1275.5 635.3 L1276.5 635.2 L1277.5 635.0 L1278.5 634.9 L1279.5 634.8 L1280.5 634.6 L1281.5 634.5 L1282.5 634.4 L1283.5 634.3 L1284.5 634.2 L1285.5 634.1 L1286.5 634.0 L1287.5 633.9 L1288.5 633.8 L1289.5 633.7 L1290.5 633.7 L1291.5 633.6 L1292.5 633.6 L1293.5 633.5 L1294.5 633.5 L1295.5 633.5 L1296.5 633.5 L1297.5 633.4 L1298.5 633.3 L1299.5 633.3 L1300.5 633.1 L1301.5 633.0 L1302.5 632.8 L1303.5 632.7 L1304.5 632.5 L1305.5 632.3 L1306.5 632.2 L1307.5 632.0 L1308.5 631.8 L1309.5 631.6 L1310.5 631.4 L1311.5 631.2 L1312.5 631.0 L1313.5 630.8 L1314.5 630.6 L1315.5 630.4 L1316.5 630.2 L1317.5 630.0 L1318.5 629.8 L1319.5 629.6 L1320.5 629.4 L1321.5 629.2 L1322.5 629.1 L1323.5 628.9 L1324.5 628.8 L1325.5 628.6 L1326.5 628.5 L1327.5 628.3 L1328.5 628.2 L1329.5 628.1 L1330.5 627.9 L1331.5 627.8 L1332.5 627.7 L1333.5 627.6 L1334.5 627.4 L1335.5 627.3 L1336.5 627.2 L1337.5 627.1 L1338.5 627.0 L1339.5 626.9 L1340.5 626.7 L1341.5 626.6 L1342.5 626.4 L1343.5 626.2 L1344.5 626.1 L1345.5 626.0 L1346.5 626.0 L1347.5 626.2 L1348.5 626.7 L1349.5 627.5 L1350.5 628.5 L1351.5 629.8"/>
<path stroke="#4daf4a" d="M162.5 408.5 L163.5 408.4 L164.5 408.3 L165.5 408.2 L166.5 408.1 L167.5 407.9 L168.5 407.7 L169.5 407.5 L170.5 407.2 L171.5 406.9 L172.5 406.6 L173.5 406.4 L174.5 406.0 L175.5 405.7 L176.5 405.4 L177.5 405.0 L178.5 404.6 L179.5 404.1 L180.5 403.6 L181.5 403.1 L182.5 402.5 L183.5 401.9 L184.5 401.3 L185.5 400.7 L186.5 400.0 L187.5 399.4 L188.5 398.6 L189.5 397.9 L190.5 397.0 L191.5 396.2 L192.5 395.3 L193.5 394.3 L194.5 393.4 L195.5 392.4 L196.5 391.4 L197.5 390.3 L198.5 389.3 L199.5 388.2 L200.5 387.0 L201.5 385.9 L202.5 384.6 L203.5 383.4 L204.5 382.0 L205.5 380.6 L206.5 379.2 L207.5 377.8 L208.5 376.3 L209.5 374.8 L210.5 373.2 L211.5 371.8 L212.5 370.4 L213.5 369.1 L214.5 367.8 L215.5 366.7 L216.5 365.9 L217.5 365.3 L218.5 364.8 L219.5 364.4 L220.5 364.1 L221.5 364.2 L222.5 364.4 L223.5 364.7 L224.5 365.0 L225.5 365.4 L226.5 365.8 L227.5 366.1 L228.5 366.5 L229.5 366.7 L230.5 366.6 L231.5 366.3 L232.5 365.8 L233.5 365.0 L234.5 363.9 L235.5 362.7 L236.5 361.4 L237.5 360.0 L238.5 358.6 L239.5 357.2 L240.5 355.7 L241.5 354.3 L242.5 352.8 L243.5 351.2 L244.5 349.7 L245.5 348.3 L246.5 347.0 L247.5 345.8 L248.5 344.6 L249.5 343.4 L250.5 342.4 L251.5 341.4 L252.5 340.5 L253.5 339.8 L254.5 339.4 L255.5 339.2 L256.5 339.2 L257.5 339.5 L258.5 340.3 L259.5 341.8 L260.5 343.4 L261.5 345.1 L262.5 346.9 L263.5 348.8 L264.5 350.6 L265.5 352.3 L266.5 353.3 L267.5 353.8 L268.5 354.1 L269.5 353.6 L270.5 352.2 L271.5 350.4 L272.5 348.0 L273.5 345.3 L274.5 342.4 L275.5 339.5 L276.5 336.5 L277.5 333.5 L278.5 330.6 L279.5 328.1 L280.5 326.0 L281.5 324.1 L282.5 322.4 L283.5 320.8 L284.5 319.3 L285.5 317.9 L286.5 316.6 L287.5 315.5 L288.5 314.8 L289.5 314.5 L290.5 314.3 L291.5 314.5 L292.5 315.4 L293.5 316.8 L294.5 319.3 L295.5 323.0 L296.5 327.5 L297.5 332.6 L298.5 338.1 L299.5 344.1 L300.5 350.6 L301.5 357.5 L302.5 365.0 L303.5 374.2 L304.5 383.5 L305.5 390.0 L306.5 395.4 L307.5 400.0 L308.5 404.0 L309.5 407.5 L310.5 410.3 L311.5 413.0 L312.5 415.7 L313.5 418.3 L314.5 421.0 L315.5 423.7 L316.5 426.5 L317.5 430.1 L318.5 434.0 L319.5 437.9 L320.5 441.9 L321.5 446.1 L322.5 450.5 L323.5 455.0 L324.5 459.7 L325.5 464.6 L326.5 469.5 L327.5 474.9 L328.5 480.0 L329.5 484.2 L330.5 488.0 L331.5 491.7 L332.5 495.0 L333.5 497.7 L334.5 499.7 L335.5 501.2 L336.5 502.6 L337.5 503.6 L338.5 504.3 L339.5 504.8 L340.5 505.4 L341.5 505.9 L342.5 506.5 L343.5 507.1 L344.5 507.6 L345.5 508.2 L346.5 508.8 L347.5 509.7 L348.5 510.8 L349.5 512.0 L350.5 513.4 L351.5 515.1 L352.5 517.0 L353.5 519.3 L354.5 522.3 L355.5 525.9 L356.5 531.0 L357.5 537.3 L358.5 545.0 L359.5 553.6 L360.5 562.3 L361.5 570.8 L362.5 580.0 L363.5 590.0 L364.5 600.0 L365.5 610.0 L366.5 620.0 L367.5 630.0 L368.5 640.0 L369.5 653.8 L370.5 664.3 L371.5 672.8 L372.5 682.0 L373.5 690.4 L374.5 697.1 L375.5 702.0 L376.5 705.8 L377.5 709.1 L378.5 711.5 L379.5 713.3 L380.5 714.9 L381.5 716.0 L382.5 716.8 L383.5 717.6 L384.5 718.3 L385.5 719.1 L386.5 719.9 L387.5 720.7 L388.5 721.5 L389.5 722.3 L390.5 723.1 L391.5 723.9 L392.5 724.7 L393.5 725.5 L394.5 726.3 L395.5 727.1 L396.5 727.9 L397.5 728.6 L398.5 729.2 L399.5 729.7 L400.5 730.2 L401.5 730.8 L402.5 731.3 L403.5 731.8 L404.5 732.3 L405.5 732.8 L406.5 733.2 L407.5 733.7 L408.5 734.0 L409.5 734.3 L410.5 734.6 L411.5 734.3 L412.5 733.8 L413.5 733.2 L414.5 732.2 L415.5 730.0 L416.5 726.4 L417.5 722.0 L418.5 717.4 L419.5 712.9 L420.5 708.3 L421.5 703.8 L422.5 699.4 L423.5 694.9 L424.5 690.5 L425.5 686.2 L426.5 681.9 L427.5 677.8 L428.5 673.9 L429.5 670.0 L430.5 666.2 L431.5 662.3 L432.5 658.4 L433.5 654.8 L434.5 652.0 L435.5 649.1 L436.5 646.4 L437.5 643.7 L438.5 641.4 L439.5 639.5 L440.5 637.9 L441.5 636.7 L442.5 635.8 L443.5 635.1 L444.5 634.7 L445.5 634.4 L446.5 634.1 L447.5 634.0 L448.5 634.0 L449.5 634.1 L450.5 634.2 L451.5 634.4 L452.5 634.6 L453.5 634.9 L454.5 635.1 L455.5 635.4 L456.5 635.6 L457.5 635.8 L458.5 635.9 L459.5 636.0 L460.5 636.1 L461.5 636.2 L462.5 636.3 L463.5 636.3 L464.5 636.4 L465.5 636.5 L466.5 636.5 L467.5 636.5 L468.5 636.5 L469.5 636.5 L470.5 636.4 L471.5 636.2 L472.5 635.9 L473.5 635.6 L474.5 635.3 L475.5 635.0 L476.5 634.7 L477.5 634.3 L478.5 634.1 L479.5 633.8 L480.5 633.5 L481.5 633.3 L482.5 633.3 L483.5 633.5 L484.5 634.1 L485.5 635.0 L486.5 636.0 L487.5 637.3 L488.5 638.8 L489.5 640.2 L490.5 641.8 L491.5 643.2 L492.5 644.8 L493.5 646.2 L494.5 647.7 L495.5 648.8 L496.5 649.7 L497.5 650.3 L498.5 650.9 L499.5 651.3 L500.5 651.6 L501.5 651.9 L502.5 652.1 L503.5 652.4 L504.5 652.6 L505.5 653.0 L506.5 653.3 L507.5 653.7 L508.5 654.3 L509.5 655.0 L510.5 655.8 L511.5 656.6 L512.5 657.4 L513.5 658.3 L514.5 659.2 L515.5 660.1 L516.5 660.9 L517.5 661.8 L518.5 662.6 L519.5 663.2 L520.5 663.8 L521.5 664.2 L522.5 664.8 L523.5 665.2 L524.5 665.8 L525.5 666.2 L526.5 666.8 L527.5 667.2 L528.5 667.8 L529.5 668.2 L530.5 668.8 L531.5 669.3 L532.5 670.0 L533.5 670.6 L534.5 671.2 L535.5 671.8 L536.5 672.3 L537.5 672.8 L538.5 673.3 L539.5 673.8 L540.5 674.2 L541.5 674.5 L542.5 674.7 L543.5 674.8 L544.5 674.8 L545.5 674.7 L546.5 674.6 L547.5 674.5 L548.5 674.5 L549.5 674.5 L550.5 674.7 L551.5 675.0 L552.5 675.4 L553.5 675.9 L554.5 676.5 L555.5 677.1 L556.5 677.8 L557.5 678.5 L558.5 679.1 L559.5 679.6 L560.5 680.1 L561.5 680.5 L562.5 680.7 L563.5 680.8 L564.5 680.7 L565.5 680.3 L566.5 679.6 L567.5 678.7 L568.5 677.7 L569.5 676.6 L570.5 675.5 L571.5 674.3 L572.5 673.3 L573.5 672.3 L574.5 671.5 L575.5 670.9 L576.5 670.4 L577.5 670.1 L578.5 669.9 L579.5 669.7 L580.5 669.6 L581.5 669.6 L582.5 669.6 L583.5 669.7 L584.5 669.9 L585.5 670.1 L586.5 670.4 L587.5 670.8 L588.5 671.2 L589.5 671.8 L590.5 672.3 L591.5 672.9 L592.5 673.5 L593.5 674.1 L594.5 674.7 L595.5 675.3 L596.5 675.9 L597.5 676.5 L598.5 677.0 L599.5 677.5 L600.5 677.9 L601.5 678.1 L602.5 678.3 L603.5 678.5 L604.5 678.7 L605.5 678.9 L606.5 679.1 L607.5 679.2 L608.5 679.4 L609.5 679.5 L610.5 679.7 L611.5 679.9 L612.5 680.2 L613.5 680.4 L614.5 680.7 L615.5 681.0 L616.5 681.4 L617.5 681.7 L618.5 682.0 L619.5 682.4 L620.5 682.7 L621.5 683.0 L622.5 683.4 L623.5 683.7 L624.5 684.0 L625.5 684.2 L626.5 684.5 L627.5 684.9 L628.5 685.1 L629.5 685.5 L630.5 685.8 L631.5 686.0 L632.5 686.3 L633.5 686.6 L634.5 687.0 L635.5 687.3 L636.5 687.6 L637.5 688.0 L638.5 688.4 L639.5 688.8 L640.5 689.2 L641.5 689.6 L642.5 690.1 L643.5 690.6 L644.5 691.1 L645.5 691.6 L646.5 692.3 L647.5 693.1 L648.5 693.9 L649.5 694.9 L650.5 696.0 L651.5 697.3 L652.5 698.7 L653.5 700.2 L654.5 701.7 L655.5 703.3 L656.5 704.7 L657.5 706.2 L658.5 707.6 L659.5 709.0 L660.5 710.2 L661.5 711.2 L662.5 711.9 L663.5 712.5 L664.5 712.9 L665.5 713.3 L666.5 713.5 L667.5 713.5 L668.5 713.5 L669.5 713.4 L670.5 713.3 L671.5 713.1 L672.5 712.8 L673.5 712.6 L674.5 712.3 L675.5 712.1 L676.5 711.8 L677.5 711.6 L678.5 711.4 L679.5 711.1 L680.5 710.9 L681.5 710.6 L682.5 710.3 L683.5 710.0 L684.5 709.8 L685.5 709.5 L686.5 709.3 L687.5 709.1 L688.5 709.0 L689.5 708.8 L690.5 708.7 L691.5 708.6 L692.5 708.6 L693.5 708.5 L694.5 708.5 L695.5 708.5 L696.5 708.4 L697.5 708.4 L698.5 708.4 L699.5 708.4 L700.5 708.4 L701.5 708.4 L702.5 708.4 L703.5 708.4 L704.5 708.4 L705.5 708.4 L706.5 708.4 L707.5 708.4 L708.5 708.4 L709.5 708.4 L710.5 708.4 L711.5 708.4 L712.5 708.4 L713.5 708.4 L714.5 708.3 L715.5 708.3 L716.5 708.3 L717.5 708.2 L718.5 708.1 L719.5 708.1 L720.5 707.9 L721.5 707.8 L722.5 707.6 L723.5 707.3 L724.5 707.0 L725.5 706.6 L726.5 706.3 L727.5 705.9 L728.5 705.5 L729.5 705.2 L730.5 704.8 L731.5 704.5 L732.5 704.1 L733.5 703.7 L734.5 703.3 L735.5 703.0 L736.5 702.6 L737.5 702.3 L738.5 701.9 L739.5 701.6 L740.5 701.2 L741.5 700.9 L742.5 700.7 L743.5 700.4 L744.5 700.2 L745.5 699.9 L746.5 699.7 L747.5 699.5 L748.5 699.3 L749.5 699.1 L750.5 698.9 L751.5 698.7 L752.5 698.5 L753.5 698.3 L754.5 698.1 L755.5 697.9 L756.5 697.7 L757.5 697.5 L758.5 697.3 L759.5 697.1 L760.5 696.9 L761.5 696.7 L762.5 696.5 L763.5 696.3 L764.5 696.1 L765.5 695.9 L766.5 695.7 L767.5 695.6 L768.5 695.5 L769.5 695.4 L770.5 695.3 L771.5 695.2 L772.5 695.2 L773.5 695.1 L774.5 695.0 L775.5 695.0 L776.5 694.9 L777.5 694.8 L778.5 694.7 L779.5 694.6 L780.5 694.4 L781.5 694.2 L782.5 693.9 L783.5 693.6 L784.5 693.3 L785.5 693.0 L786.5 692.7 L787.5 692.4 L788.5 692.0 L789.5 691.7 L790.5 691.4 L791.5 691.1 L792.5 690.9 L793.5 690.6 L794.5 690.4 L795.5 690.2 L796.5 690.0 L797.5 689.8 L798.5 689.7 L799.5 689.6 L800.5 689.4 L801.5 689.3 L802.5 689.2 L803.5 689.1 L804.5 689.0 L805.5 689.0 L806.5 688.9 L807.5 688.8 L808.5 688.7 L809.5 688.6 L810.5 688.4 L811.5 688.3 L812.5 688.2 L813.5 688.0 L814.5 687.9 L815.5 687.8 L816.5 687.6 L817.5 687.4 L818.5 687.3 L819.5 687.1 L820.5 686.9 L821.5 686.7 L822.5 686.5 L823.5 686.3 L824.5 686.1 L825.5 685.9 L826.5 685.7 L827.5 685.5 L828.5 685.3 L829.5 685.1 L830.5 684.9 L831.5 684.7 L832.5 684.5 L833.5 684.3 L834.5 684.1 L835.5 684.0 L836.5 683.8 L837.5 683.6 L838.5 683.4 L839.5 683.2 L840.5 683.0 L841.5 682.8 L842.5 682.6 L843.5 682.4 L844.5 682.3 L845.5 682.1 L846.5 681.9 L847.5 681.7 L848.5 681.5 L849.5 681.3 L850.5 681.2 L851.5 681.0 L852.5 680.8 L853.5 680.6 L854.5 680.5 L855.5 680.3 L856.5 680.1 L857.5 679.9 L858.5 679.8 L859.5 679.6 L860.5 679.4 L861.5 679.2 L862.5 679.1 L863.5 678.9 L864.5 678.7 L865.5 678.5 L866.5 678.4 L867.5 678.2 L868.5 678.0 L869.5 677.8 L870.5 677.7 L871.5 677.5 L872.5 677.3 L873.5 677.1 L874.5 677.0 L875.5 676.8 L876.5 676.6 L877.5 676.4 L878.5 676.3 L879.5 676.1 L880.5 675.9 L881.5 675.7 L882.5 675.6 L883.5 675.4 L884.5 675.2 L885.5 675.1 L886.5 674.9 L887.5 674.7 L888.5 674.5 L889.5 674.4 L890.5 674.2 L891.5 674.1 L892.5 673.9 L893.5 673.7 L894.5 673.6 L895.5 673.4 L896.5 673.3 L897.5 673.1 L898.5 673.0 L899.5 672.8 L900.5 672.7 L901.5 672.6 L902.5 672.4 L903.5 672.3 L904.5 672.2 L905.5 672.1 L906.5 671.9 L907.5 671.8 L908.5 671.7 L909.5 671.6 L910.5 671.4 L911.5 671.3 L912.5 671.2 L913.5 671.1 L914.5 671.0 L915.5 670.9 L916.5 670.7 L917.5 670.6 L918.5 670.5 L919.5 670.4 L920.5 670.3 L921.5 670.2 L922.5 670.1 L923.5 669.9 L924.5 669.8 L925.5 669.7 L926.5 669.6 L927.5 669.5 L928.5 669.4 L929.5 669.3 L930.5 669.1 L931.5 669.0 L932.5 668.9 L933.5 668.8 L934.5 668.7 L935.5 668.5 L936.5 668.4 L937.5 668.3 L938.5 668.2 L939.5 668.0 L940.5 667.9 L941.5 667.8 L942.5 667.7 L943.5 667.5 L944.5 667.4 L945.5 667.3 L946.5 667.1 L947.5 667.0 L948.5 666.9 L949.5 666.7 L950.5 666.6 L951.5 666.5 L952.5 666.4 L953.5 666.2 L954.5 666.1 L955.5 666.0 L956.5 665.8 L957.5 665.7 L958.5 665.6 L959.5 665.4 L960.5 665.3 L961.5 665.2 L962.5 665.0 L963.5 664.9 L964.5 664.8 L965.5 664.7 L966.5 664.5 L967.5 664.4 L968.5 664.3 L969.5 664.2 L970.5 664.0 L971.5 663.9 L972.5 663.8 L973.5 663.7 L974.5 663.5 L975.5 663.4 L976.5 663.3 L977.5 663.2 L978.5 663.1 L979.5 662.9 L980.5 662.8 L981.5 662.7 L982.5 662.6 L983.5 662.5 L984.5 662.3 L985.5 662.2 L986.5 662.1 L987.5 662.0 L988.5 661.9 L989.5 661.7 L990.5 661.6 L991.5 661.5 L992.5 661.4 L993.5 661.3 L994.5 661.2 L995.5 661.1 L996.5 661.0 L997.5 660.9 L998.5 660.8 L999.5 660.7 L1000.5 660.5 L1001.5 660.4 L1002.5 660.3 L1003.5 660.2 L1004.5 660.1 L1005.5 660.1 L1006.5 660.0 L1007.5 659.9 L1008.5 659.8 L1009.5 659.7 L1010.5 659.6 L1011.5 659.5 L1012.5 659.4 L1013.5 659.3 L1014.5 659.2 L1015.5 659.1 L1016.5 659.0 L1017.5 658.9 L1018.5 658.9 L1019.5 658.8 L1020.5 658.7 L1021.5 658.6 L1022.5 658.5 L1023.5 658.4 L1024.5 658.3 L1025.5 658.2 L1026.5 658.2 L1027.5 658.1 L1028.5 658.0 L1029.5 657.9 L1030.5 657.8 L1031.5 657.7 L1032.5 657.6 L1033.5 657.6 L1034.5 657.5 L1035.5 657.4 L1036.5 657.3 L1037.5 657.2 L1038.5 657.1 L1039.5 657.0 L1040.5 657.0 L1041.5 656.9 L1042.5 656.8 L1043.5 656.7 L1044.5 656.6 L1045.5 656.5 L1046.5 656.5 L1047.5 656.4 L1048.5 656.3 L1049.5 656.2 L1050.5 656.1 L1051.5 656.0 L1052.5 656.0 L1053.5 655.9 L1054.5 655.8 L1055.5 655.7 L1056.5 655.6 L1057.5 655.5 L1058.5 655.4 L1059.5 655.4 L1060.5 655.3 L1061.5 655.2 L1062.5 655.1 L1063.5 655.0 L1064.5 655.0 L1065.5 654.9 L1066.5 654.8 L1067.5 654.7 L1068.5 654.6 L1069.5 654.5 L1070.5 654.5 L1071.5 654.4 L1072.5 654.3 L1073.5 654.2 L1074.5 654.1 L1075.5 654.1 L1076.5 654.0 L1077.5 653.9 L1078.5 653.8 L1079.5 653.7 L1080.5 653.7 L1081.5 653.6 L1082.5 653.5 L1083.5 653.4 L1084.5 653.3 L1085.5 653.3 L1086.5 653.2 L1087.5 653.1 L1088.5 653.0 L1089.5 652.9 L1090.5 652.9 L1091.5 652.8 L1092.5 652.7 L1093.5 652.6 L1094.5 652.5 L1095.5 652.5 L1096.5 652.4 L1097.5 652.3 L1098.5 652.2 L1099.5 652.1 L1100.5 652.1 L1101.5 652.0 L1102.5 651.9 L1103.5 651.8 L1104.5 651.7 L1105.5 651.6 L1106.5 651.6 L1107.5 651.5 L1108.5 651.4 L1109.5 651.3 L1110.5 651.2 L1111.5 651.1 L1112.5 651.1 L1113.5 651.0 L1114.5 650.9 L1115.5 650.8 L1116.5 650.7 L1117.5 650.6 L1118.5 650.5 L1119.5 650.5 L1120.5 650.4 L1121.5 650.3 L1122.5 650.2 L1123.5 650.1 L1124.5 650.0 L1125.5 650.0 L1126.5 649.9 L1127.5 649.8 L1128.5 649.7 L1129.5 649.6 L1130.5 649.5 L1131.5 649.4 L1132.5 649.4 L1133.5 649.3 L1134.5 649.2 L1135.5 649.1 L1136.5 649.0 L1137.5 649.0 L1138.5 648.9 L1139.5 648.8 L1140.5 648.7 L1141.5 648.6 L1142.5 648.6 L1143.5 648.5 L1144.5 648.4 L1145.5 648.3 L1146.5 648.3 L1147.5 648.2 L1148.5 648.1 L1149.5 648.0 L1150.5 648.0 L1151.5 647.9 L1152.5 647.8 L1153.5 647.8 L1154.5 647.7 L1155.5 647.6 L1156.5 647.5 L1157.5 647.5 L1158.5 647.4 L1159.5 647.3 L1160.5 647.2 L1161.5 647.2 L1162.5 647.1 L1163.5 647.0 L1164.5 647.0 L1165.5 646.9 L1166.5 646.8 L1167.5 646.8 L1168.5 646.7 L1169.5 646.6 L1170.5 646.5 L1171.5 646.5 L1172.5 646.4 L1173.5 646.3 L1174.5 646.2 L1175.5 646.2 L1176.5 646.1 L1177.5 646.0 L1178.5 646.0 L1179.5 645.9 L1180.5 645.8 L1181.5 645.8 L1182.5 645.7 L1183.5 645.6 L1184.5 645.5 L1185.5 645.5 L1186.5 645.4 L1187.5 645.3 L1188.5 645.2 L1189.5 645.2 L1190.5 645.1 L1191.5 645.0 L1192.5 645.0 L1193.5 644.9 L1194.5 644.8 L1195.5 644.8 L1196.5 644.7 L1197.5 644.6 L1198.5 644.5 L1199.5 644.5 L1200.5 644.4 L1201.5 644.3 L1202.5 644.2 L1203.5 644.2 L1204.5 644.1 L1205.5 644.0 L1206.5 644.0 L1207.5 643.9 L1208.5 643.8 L1209.5 643.8 L1210.5 643.7 L1211.5 643.6 L1212.5 643.5 L1213.5 643.5 L1214.5 643.4 L1215.5 643.3 L1216.5 643.2 L1217.5 643.2 L1218.5 643.1 L1219.5 643.0 L1220.5 643.0 L1221.5 642.9 L1222.5 642.8 L1223.5 642.7 L1224.5 642.6 L1225.5 642.5 L1226.5 642.4 L1227.5 642.3 L1228.5 642.1 L1229.5 642.0 L1230.5 641.9 L1231.5 641.7 L1232.5 641.6 L1233.5 641.4 L1234.5 641.3 L1235.5 641.1 L1236.5 641.0 L1237.5 640.8 L1238.5 640.6 L1239.5 640.4 L1240.5 640.3 L1241.5 640.1 L1242.5 639.9 L1243.5 639.7 L1244.5 639.5 L1245.5 639.2 L1246.5 639.0 L1247.5 638.8 L1248.5 638.6 L1249.5 638.3 L1250.5 638.1 L1251.5 637.8 L1252.5 637.6 L1253.5 637.3 L1254.5 637.0 L1255.5 636.8 L1256.5 636.5 L1257.5 636.2 L1258.5 635.9 L1259.5 635.7 L1260.5 635.4 L1261.5 635.1 L1262.5 634.8 L1263.5 634.6 L1264.5 634.3 L1265.5 634.1 L1266.5 633.8 L1267.5 633.6 L1268.5 633.4 L1269.5 633.1 L1270.5 632.9 L1271.5 632.7 L1272.5 632.5 L1273.5 632.2 L1274.5 632.0 L1275.5 631.8 L1276.5 631.6 L1277.5 631.4 L1278.5 631.2 L1279.5 631.1 L1280.5 630.9 L1281.5 630.8 L1282.5 630.6 L1283.5 630.5 L1284.5 630.3 L1285.5 630.2 L1286.5 630.1 L1287.5 630.1 L1288.5 630.0 L1289.5 630.0 L1290.5 630.0 L1291.5 630.1 L1292.5 630.2 L1293.5 630.3 L1294.5 630.5 L1295.5 630.8 L1296.5 631.0 L1297.5 631.4 L1298.5 631.7 L1299.5 632.1 L1300.5 632.5 L1301.5 632.9 L1302.5 633.1 L1303.5 633.4 L1304.5 633.6 L1305.5 633.7 L1306.5 633.8 L1307.5 633.8 L1308.5 633.7 L1309.5 633.6 L1310.5 633.4 L1311.5 633.2 L1312.5 632.8 L1313.5 632.4 L1314.5 632.0 L1315.5 631.5 L1316.5 631.0 L1317.5 630.7 L1318.5 630.4 L1319.5 630.1 L1320.5 629.9 L1321.5 629.7 L1322.5 629.5 L1323.5 629.4 L1324.5 629.2 L1325.5 629.2 L1326.5 629.1 L1327.5 629.2 L1328.5 629.2 L1329.5 629.5 L1330.5 629.9 L1331.5 630.6 L1332.5 631.5 L1333.5 632.6 L1334.5 633.9 L1335.5 635.3 L1336.5 636.7 L1337.5 638.2 L1338.5 639.8 L1339.5 641.3 L1340.5 642.7 L1341.5 644.2 L1342.5 645.6 L1343.5 647.0 L1344.5 648.3 L1345.5 649.6 L1346.5 650.8 L1347.5 651.9 L1348.5 652.9 L1349.5 653.8 L1350.5 654.7 L1351.5 655.5"/>
</g>
<path d="M161.9 58.5h-4.86M161.9 155.5h-4.86M161.9 251.5h-4.86M161.9 348.5h-4.86M161.9 445.5h-4.86M161.9 541.5h-4.86M161.9 638.5h-4.86M161.9 734.5h-4.86M161.9 831.5h-4.86M162.5 862.0v5.5M360.5 862.0v5.5M558.5 862.0v5.5M756.5 862.0v5.5M955.5 862.0v5.5M1153.5 862.0v5.5M1351.5 862.0v5.5" stroke="#000" stroke-width="1.11" fill="none"/>
<rect x="162.5" y="27.5" width="1189.0" height="835.0" fill="none" stroke="#000" stroke-width="1.11"/>
<text transform="translate(152.00 76.95) scale(1 1.028)" font-size="48.61" text-anchor="end">7</text>
<text transform="translate(152.80 172.59) scale(1 1.028)" font-size="48.61" text-anchor="end">6</text>
<text transform="translate(152.80 271.23) scale(1 1.028)" font-size="48.61" text-anchor="end">5</text>
<text transform="translate(152.80 366.87) scale(1 1.028)" font-size="48.61" text-anchor="end">4</text>
<text transform="translate(152.80 462.51) scale(1 1.028)" font-size="48.61" text-anchor="end">3</text>
<text transform="translate(152.80 560.15) scale(1 1.028)" font-size="48.61" text-anchor="end">2</text>
<text transform="translate(152.80 656.79) scale(1 1.028)" font-size="48.61" text-anchor="end">1</text>
<text transform="translate(152.00 753.43) scale(1 1.028)" font-size="48.61" text-anchor="end">0</text>
<text transform="translate(0 850.07) scale(1 1.028)" x="81.14 120.87" y="0.6 0" font-size="48.61">−1</text>
<text transform="translate(0 909.20) scale(1 1.028)" x="147.04" font-size="48.61">0</text>
<text transform="translate(0 910.20) scale(1 1.028)" x="345.20" font-size="48.61">5</text>
<text transform="translate(0 909.20) scale(1 1.028)" x="527.91 557.83" font-size="48.61">10</text>
<text transform="translate(0 910.20) scale(1 1.028)" x="726.07 755.80" font-size="48.61">15</text>
<text transform="translate(0 909.20) scale(1 1.028)" x="923.64 954.17" font-size="48.61">20</text>
<text transform="translate(0 909.20) scale(1 1.028)" x="1121.41 1151.83" font-size="48.61">25</text>
<text transform="translate(0 909.20) scale(1 1.028)" x="1321.17 1350.90" font-size="48.61">30</text>
<text x="756.45" y="969.7" font-size="58.33" text-anchor="middle">Energy (eV)</text>
<text transform="translate(62 444.90) rotate(-90)" font-size="58.33" text-anchor="middle">Dielec. function (Real part)</text>
<path d="M1150.7 45.5H1326.3Q1333.5 45.5 1333.5 52.7V209.3Q1333.5 216.5 1326.3 216.5H1150.7Q1143.5 216.5 1143.5 209.3V52.7Q1143.5 45.5 1150.7 45.5Z" fill="#fff" fill-opacity="0.8" stroke="#ccc" stroke-opacity="0.8" stroke-width="1.39"/>
<path d="M1156 74.5H1231" stroke="#e41a1c" stroke-width="2.78" fill="none"/>
<text x="1258.5" y="87.50" font-size="36.11" font-style="italic">ε</text>
<text x="1278.5" y="93.30" font-size="25.28">1</text>
<text x="1294.5" y="87.00" font-size="36.11" font-style="italic">x</text>
<path d="M1156 127.5H1231" stroke="#377eb8" stroke-width="2.78" fill="none"/>
<text x="1258.5" y="140.50" font-size="36.11" font-style="italic">ε</text>
<text x="1278.5" y="146.30" font-size="25.28">1</text>
<text x="1294.5" y="140.00" font-size="36.11" font-style="italic">y</text>
<path d="M1156 181.5H1231" stroke="#4daf4a" stroke-width="2.78" fill="none"/>
<text x="1258.5" y="194.50" font-size="36.11" font-style="italic">ε</text>
<text x="1278.5" y="200.30" font-size="25.28">1</text>
<text x="1295.2" y="194.00" font-size="36.11" font-style="italic">z</text>
</svg></body></html>
